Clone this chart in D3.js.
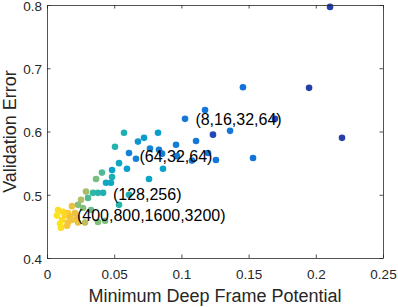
<!DOCTYPE html>
<html>
<head>
<meta charset="utf-8">
<script src="https://cdn.jsdelivr.net/npm/d3@7"></script>
<style>
  body { margin: 0; background: #fff; }
  svg text { font-family: "Liberation Sans", Arial, Helvetica, sans-serif; }
</style>
</head>
<body>
<div id="chart"></div>
<script>
window.onload = function () {

    // ---- DATA ----------------------------

    // minimum deep frame potential
    var framePotential = [
        0.2106, 0.195, 0.2195, 0.1696, 0.1235,
        0.1458, 0.1176, 0.1362, 0.1257, 0.1533, 0.1027, 0.1109, 0.096, 0.1198, 0.1079,
        0.0766, 0.0833, 0.061, 0.0856, 0.0967, 0.0662, 0.0536,
        0.0826, 0.0722, 0.0677, 0.0573, 0.0506, 0.0484, 0.0595, 0.0863,
        0.0409, 0.0484, 0.0365, 0.0759, 0.0439, 0.0476,
        0.029, 0.0342, 0.0379, 0.0417, 0.0305, 0.061, 0.0253, 0.0536,
        0.0186, 0.0231, 0.0268, 0.0327, 0.0082, 0.0119, 0.0156, 0.0208,
        0.0074, 0.0134, 0.0171, 0.0223, 0.0112, 0.0156, 0.0231, 0.0283,
        0.0379, 0.0432, 0.0104, 0.0149, 0.0097, 0.0186
    ];

    // validation error
    var valError = [
        0.797, 0.669, 0.590, 0.620, 0.595,
        0.670, 0.634, 0.601, 0.555, 0.558, 0.620, 0.585, 0.579, 0.566, 0.554,
        0.573, 0.571, 0.566, 0.565, 0.561, 0.557, 0.550,
        0.598, 0.590, 0.584, 0.598, 0.576, 0.539, 0.541, 0.541,
        0.535, 0.528, 0.525, 0.525, 0.519, 0.519,
        0.505, 0.503, 0.503, 0.503, 0.495, 0.500, 0.492, 0.484,
        0.482, 0.484, 0.479, 0.476, 0.476, 0.473, 0.471, 0.471,
        0.467, 0.467, 0.465, 0.464, 0.460, 0.456, 0.456, 0.456,
        0.457, 0.459, 0.448, 0.451, 0.454, 0.460
    ];

    // position on the colormap (0 = dark blue, 1 = yellow)
    var colorVal = [
        0.05, 0.05, 0.05, 0.07, 0.07,
        0.2, 0.22, 0.22, 0.22, 0.2, 0.22, 0.22, 0.24, 0.22, 0.22,
        0.26, 0.24, 0.25, 0.24, 0.24, 0.26, 0.4,
        0.35, 0.35, 0.33, 0.45, 0.47, 0.38, 0.35, 0.37,
        0.55, 0.45, 0.6, 0.38, 0.4, 0.4,
        0.68, 0.5, 0.48, 0.45, 0.55, 0.45, 0.7, 0.48,
        0.82, 0.62, 0.62, 0.58, 0.93, 0.92, 0.88, 0.82,
        0.94, 0.91, 0.84, 0.81, 0.92, 0.84, 0.82, 0.72,
        0.62, 0.6, 0.93, 0.85, 0.94, 0.84
    ];

    var xTicks = [0, 0.05, 0.1, 0.15, 0.2, 0.25],
        xTickLabels = ["0", "0.05", "0.1", "0.15", "0.2", "0.25"],
        yTicks = [0.4, 0.5, 0.6, 0.7, 0.8],
        yTickLabels = ["0.4", "0.5", "0.6", "0.7", "0.8"];

    var notes = ["(8,16,32,64)", "(64,32,64)", "(128,256)", "(400,800,1600,3200)"],
        noteX = [0.1104, 0.0688, 0.0491, 0.0223],
        noteY = [0.619, 0.561, 0.501, 0.468];

    var parula = ["#352a87", "#0f5cdd", "#1481d6", "#06a4ca", "#2eb7a4",
                  "#87bf77", "#d1bb59", "#fec832", "#f9fb0e"];

    // ---- SCATTER PLOT -----

    var width = 398,
        height = 307,
        margin = {left: 47, top: 5, right: 15, bottom: 49},
        svg = d3.select("#chart")
                .append("svg")
                .attr("width", width)
                .attr("height", height);

    var xScale = d3.scaleLinear()
                    .domain([0, 0.25])
                    .range([margin.left, width - margin.right]);

    var yScale = d3.scaleLinear()
                    .domain([0.4, 0.8])
                    .range([height - margin.bottom, margin.top]);

    var colorScale = d3.scaleLinear()
                    .domain(d3.range(parula.length).map(function(i){return i / (parula.length - 1)}))
                    .range(parula);

    var points = framePotential.map(function(v, i){
        return {x: v, y: valError[i], c: colorVal[i]};
    });

    svg.selectAll("circle")
        .data(points)
        .enter()
        .append("circle")
            .attr("cx", function(d){return xScale(d.x)})
            .attr("cy", function(d){return yScale(d.y)})
            .attr("r", 3.3)
            .attr("fill", function(d){return colorScale(d.c)});

    // axes (ticks point inward, box on)
    var axisColor = "#262626";

    var xAxis = d3.axisBottom(xScale)
                    .tickValues(xTicks)
                    .tickFormat(function(d, i){return xTickLabels[i]})
                    .tickSizeInner(-3.5).tickSizeOuter(0).tickPadding(11);
    var yAxis = d3.axisLeft(yScale)
                    .tickValues(yTicks)
                    .tickFormat(function(d, i){return yTickLabels[i]})
                    .tickSizeInner(-3.5).tickSizeOuter(0).tickPadding(5);
    var xTop = d3.axisTop(xScale).tickValues(xTicks).tickFormat("")
                    .tickSizeInner(-3.5).tickSizeOuter(0);
    var yRight = d3.axisRight(yScale).tickValues(yTicks).tickFormat("")
                    .tickSizeInner(-3.5).tickSizeOuter(0);

    var gx = svg.append("g")
        .attr("transform", "translate(0," + (height - margin.bottom) + ")")
        .call(xAxis);
    var gy = svg.append("g")
        .attr("transform", "translate(" + margin.left + ",0)")
        .call(yAxis);
    var gt = svg.append("g")
        .attr("transform", "translate(0," + margin.top + ")")
        .call(xTop);
    var gr = svg.append("g")
        .attr("transform", "translate(" + (width - margin.right) + ",0)")
        .call(yRight);

    [gx, gy, gt, gr].forEach(function(g){
        g.selectAll("path, line").attr("stroke", axisColor).attr("stroke-width", 0.8);
        g.selectAll("text").attr("fill", axisColor)
            .style("font-size", "13.5px")
            .style("font-family", "'Liberation Sans', Arial, sans-serif");
    });
    // keep the top label inside the picture
    gy.selectAll("text").attr("dy", "0.4em");

    // annotations
    svg.selectAll(".note")
        .data(notes)
        .enter()
        .append("text")
            .attr("class", "note")
            .attr("x", function(d, i){return xScale(noteX[i])})
            .attr("y", function(d, i){return yScale(noteY[i])})
            .attr("dy", "0.35em")
            .style("font-size", "16px")
            .attr("fill", "#000")
            .text(function(d){return d});

    // axis labels
    svg.append("text")
        .attr("x", (margin.left + width - margin.right) / 2)
        .attr("y", 302)
        .attr("text-anchor", "middle")
        .style("font-size", "18px")
        .attr("fill", axisColor)
        .text("Minimum Deep Frame Potential");

    svg.append("text")
        .attr("transform", "translate(16," + ((margin.top + height - margin.bottom) / 2) + ") rotate(-90)")
        .attr("text-anchor", "middle")
        .style("font-size", "18px")
        .attr("fill", axisColor)
        .text("Validation Error");
};
</script>
</body>
</html>
